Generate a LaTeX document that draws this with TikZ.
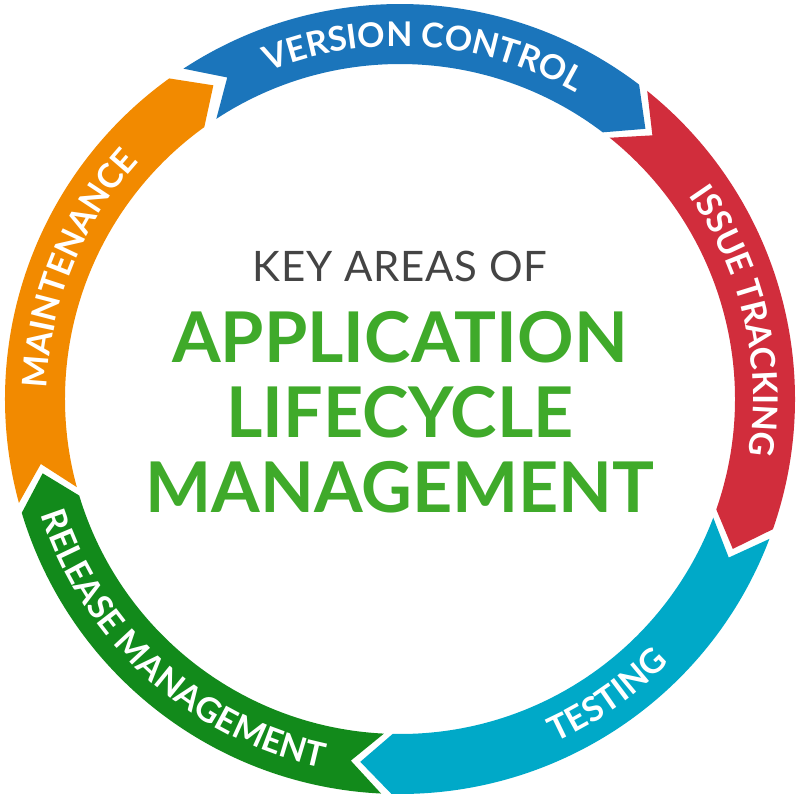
\documentclass[tikz,border=0pt]{standalone}
\usepackage{fontspec}
\setmainfont{Lato}
\usetikzlibrary{decorations.text}
\definecolor{cblue}{HTML}{1B75BB}
\definecolor{cred}{HTML}{D12D3C}
\definecolor{ccyan}{HTML}{00A9C8}
\definecolor{cgreen}{HTML}{128A1B}
\definecolor{corange}{HTML}{F28A00}
\definecolor{ctitle}{HTML}{3FAA2A}
\definecolor{cgray}{HTML}{444444}
\newcommand{\seg}[3]{% start, end, color
  \fill[#3] (#1:395) arc[start angle=#1,end angle=#2,radius=395] -- (#2-5:365) -- (#2:335)
    arc[start angle=#2,end angle=#1,radius=335] -- (#1-5:365) -- cycle;}
\tikzset{ringtext/.style={decorate,decoration={text along path,text align=center,
  text={|\bfseries\fontsize{34}{34}\selectfont\color{white}|#1}}}}
\begin{document}
\begin{tikzpicture}[x=1pt,y=1pt]
\useasboundingbox (-400,-399) rectangle (399,399);
\seg{123.25}{52.75}{cblue}
\seg{51.25}{-19.25}{cred}
\seg{-20.75}{-91.25}{ccyan}
\seg{-92.75}{-163.25}{cgreen}
\seg{-164.75}{-234.25}{corange}
\path[ringtext={VERSION CONTROL}] (120:353) arc[start angle=120,end angle=52,radius=353];
\path[ringtext={ISSUE TRACKING}] (50:353) arc[start angle=50,end angle=-24,radius=353];
\path[ringtext={TESTING}] (-90:377) arc[start angle=-90,end angle=-20,radius=377];
\path[ringtext={RELEASE MANAGEMENT}] (-168:377) arc[start angle=-168,end angle=-96,radius=377];
\path[ringtext={MAINTENANCE}] (-166:353) arc[start angle=194,end angle=122,radius=353];
\node (t1) at (0,133) {\fontsize{42}{42}\selectfont\color{cgray}\addfontfeature{LetterSpace=2}KEY AREAS OF};
\node (t2) at (0,62) {\bfseries\fontsize{70}{70}\selectfont\color{ctitle}APPLICATION};
\node (t3) at (0,-13) {\bfseries\fontsize{70}{70}\selectfont\color{ctitle}LIFECYCLE};
\node (t4) at (0,-88) {\bfseries\fontsize{70}{70}\selectfont\color{ctitle}MANAGEMENT};
\end{tikzpicture}
\end{document}
